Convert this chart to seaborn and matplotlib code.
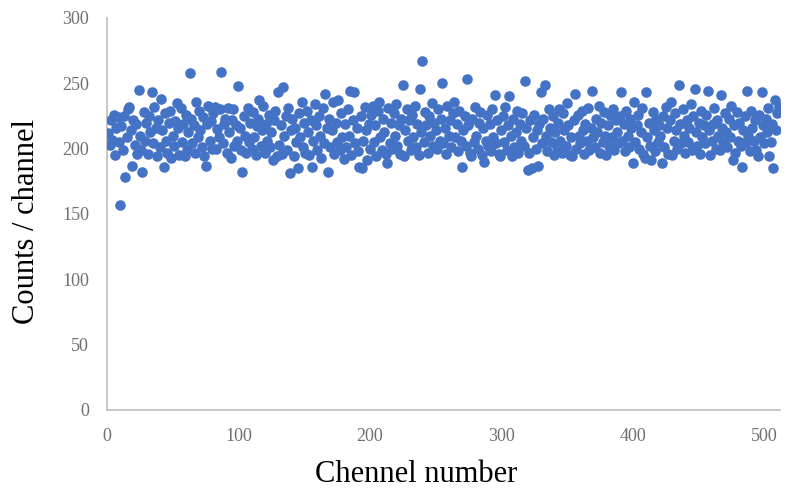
import numpy as np
import pandas as pd
import matplotlib
matplotlib.use("Agg")
import matplotlib.pyplot as plt
import seaborn as sns

counts = [
    212, 203, 222, 207, 226, 195, 216, 224, 205, 157,
    217, 199, 225, 178, 209, 230, 232, 214, 187, 222,
    203, 219, 196, 245, 210, 199, 182, 228, 206, 220,
    196, 225, 213, 243, 204, 232, 216, 194, 222, 201,
    238, 214, 186, 227, 206, 197, 220, 229, 193, 210,
    202, 221, 235, 216, 195, 231, 205, 219, 194, 226,
    199, 213, 258, 223, 204, 218, 197, 236, 209, 229,
    214, 201, 224, 194, 187, 219, 233, 206, 221, 200,
    227, 232, 200, 215, 209, 230, 259, 204, 219, 223,
    197, 231, 213, 193, 222, 230, 202, 218, 206, 248,
    216, 199, 182, 225, 210, 197, 231, 205, 220, 200,
    228, 209, 195, 217, 223, 237, 202, 214, 233, 197,
    219, 206, 226, 201, 213, 191, 222, 229, 194, 243,
    203, 218, 196, 247, 210, 225, 199, 231, 181, 214,
    223, 194, 216, 205, 185, 227, 209, 236, 201, 220,
    197, 229, 213, 195, 222, 186, 206, 234, 218, 199,
    225, 210, 193, 231, 204, 242, 216, 182, 223, 201,
    214, 236, 196, 220, 205, 237, 199, 227, 209, 192,
    219, 201, 230, 210, 244, 195, 222, 243, 204, 216,
    198, 186, 225, 185, 206, 232, 214, 191, 219, 200,
    226, 233, 205, 218, 194, 229, 236, 209, 199, 223,
    213, 196, 189, 231, 204, 220, 200, 227, 210, 234,
    202, 218, 196, 223, 249, 194, 214, 230, 206, 222,
    199, 226, 209, 233, 201, 219, 195, 246, 213, 267,
    205, 228, 218, 197, 225, 210, 235, 202, 220, 214,
    200, 230, 206, 223, 250, 204, 216, 196, 233, 210,
    222, 201, 227, 236, 209, 219, 198, 229, 206, 186,
    214, 225, 202, 253, 218, 197, 194, 223, 205, 232,
    210, 200, 220, 228, 195, 216, 190, 206, 226, 202,
    219, 198, 230, 209, 241, 204, 222, 196, 194, 214,
    225, 205, 232, 199, 218, 240, 210, 194, 223, 201,
    213, 229, 197, 219, 206, 227, 202, 252, 216, 184,
    197, 222, 185, 209, 226, 200, 214, 187, 219, 243,
    204, 223, 249, 210, 198, 230, 216, 205, 225, 195,
    213, 201, 220, 230, 206, 197, 227, 214, 202, 235,
    218, 195, 209, 194, 222, 242, 200, 226, 210, 204,
    229, 214, 196, 219, 206, 231, 199, 216, 244, 209,
    201, 223, 213, 233, 197, 220, 205, 228, 210, 195,
    218, 202, 226, 209, 230, 199, 222, 213, 204, 225,
    243, 206, 219, 198, 229, 210, 201, 223, 216, 189,
    236, 205, 218, 226, 200, 213, 231, 196, 193, 243,
    209, 220, 202, 191, 228, 214, 198, 223, 205, 218,
    210, 189, 225, 201, 232, 216, 196, 222, 236, 195,
    206, 227, 214, 200, 249, 219, 204, 230, 210, 197,
    222, 205, 216, 234, 199, 225, 246, 213, 202, 220,
    196, 229, 209, 218, 204, 226, 244, 214, 195, 206,
    219, 231, 200, 222, 210, 199, 241, 216, 205, 227,
    213, 201, 223, 209, 233, 191, 218, 197, 228, 206,
    220, 202, 186, 214, 225, 205, 244, 210, 198, 229,
    216, 206, 222, 199, 194, 226, 209, 243, 218, 204,
    223, 213, 231, 194, 205, 219, 185, 237, 214, 227,
    232,
]
channels = list(range(1, len(counts) + 1))
x_ticks = [0, 100, 200, 300, 400, 500]
y_ticks = [0, 50, 100, 150, 200, 250, 300]

df = pd.DataFrame({"channel": channels, "counts": counts})

sns.set_style("white")
plt.rcParams["font.family"] = ["Liberation Serif", "DejaVu Serif"]

fig = plt.figure(figsize=(7.89, 4.90), dpi=100)
ax = fig.add_axes([0.1356, 0.1633, 0.8530, 0.8000])

sns.scatterplot(data=df, x="channel", y="counts", ax=ax, color="#4472C4",
                s=58, linewidth=0, alpha=1.0, zorder=3)

ax.set_xlim(0, 512)
ax.set_ylim(0, 300)
ax.set_xticks(x_ticks)
ax.set_yticks(y_ticks)
ax.tick_params(axis="both", length=0, labelsize=13, colors="#707070", pad=13)
for side in ["top", "right"]:
    ax.spines[side].set_visible(False)
for side in ["left", "bottom"]:
    ax.spines[side].set_color("#BFBFBF")
    ax.spines[side].set_linewidth(1.2)
ax.grid(False)

ax.set_xlabel("Chennel number", fontsize=22, color="black")
ax.set_ylabel("Counts / channel", fontsize=22, color="black")
ax.xaxis.set_label_coords(0.459, -0.128)
ax.yaxis.set_label_coords(-0.098, 0.48)

fig.savefig("out.png", dpi=100)
